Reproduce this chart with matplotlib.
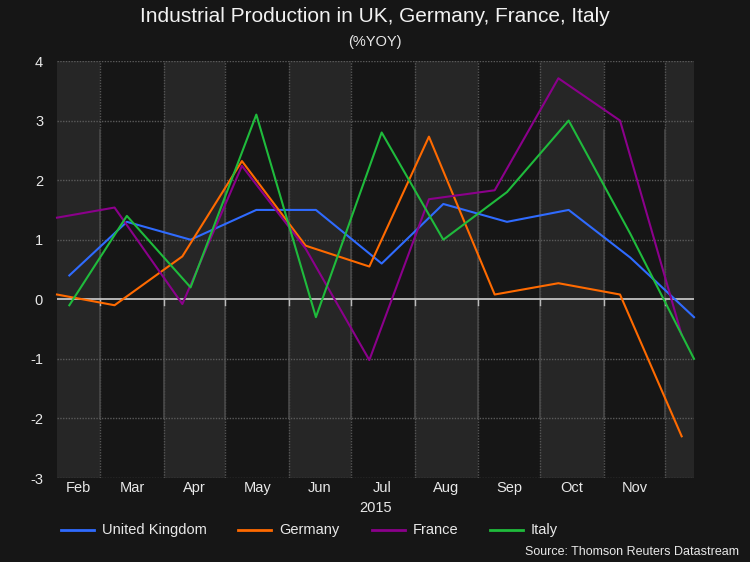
import datetime as dt
import matplotlib
matplotlib.use("Agg")
import matplotlib.pyplot as plt
import matplotlib.dates as mdates
from matplotlib import font_manager
from matplotlib.lines import Line2D

# ---------------- data ----------------
uk_dates = ["2015-02-14", "2015-03-14", "2015-04-14", "2015-05-16", "2015-06-14", "2015-07-16",
            "2015-08-15", "2015-09-15", "2015-10-15", "2015-11-14", "2015-12-15"]
uk_values = [0.4, 1.3, 1.0, 1.5, 1.5, 0.6, 1.6, 1.3, 1.5, 0.7, -0.3]

it_dates = uk_dates
it_values = [-0.1, 1.4, 0.2, 3.1, -0.3, 2.8, 1.0, 1.8, 3.0, 1.1, -1.0]

de_dates = ["2015-02-08", "2015-03-08", "2015-04-10", "2015-05-09", "2015-06-09", "2015-07-10",
            "2015-08-08", "2015-09-09", "2015-10-10", "2015-11-09", "2015-12-09"]
de_values = [0.08, -0.1, 0.72, 2.32, 0.9, 0.55, 2.73, 0.08, 0.27, 0.08, -2.3]

fr_dates = de_dates
fr_values = [1.37, 1.54, -0.08, 2.24, 0.85, -1.02, 1.68, 1.83, 3.71, 3.0, -0.6]

series_names = ["United Kingdom", "Germany", "France", "Italy"]
series_colors = ["#2f6bff", "#ff6a00", "#8b008b", "#1fbb3c"]

month_labels = ["Feb", "Mar", "Apr", "May", "Jun", "Jul", "Aug", "Sep", "Oct", "Nov"]
month_starts = ["2015-02-01", "2015-03-01", "2015-04-01", "2015-05-01", "2015-06-01", "2015-07-01",
                "2015-08-01", "2015-09-01", "2015-10-01", "2015-11-01", "2015-12-01", "2016-01-01"]
y_ticks = [-3, -2, -1, 0, 1, 2, 3, 4]
x_start = "2015-02-08"
x_end = "2015-12-15"
year_label = "2015"
title = "Industrial Production in UK, Germany, France, Italy"
subtitle = "(%YOY)"
source = "Source: Thomson Reuters Datastream"

# ---------------- fonts ----------------
available = {f.name for f in font_manager.fontManager.ttflist}
fams = [f for f in ["Liberation Sans Narrow", "Liberation Sans", "DejaVu Sans"] if f in available]
plt.rcParams["font.family"] = fams


def d(s):
    return mdates.date2num(dt.datetime.strptime(s, "%Y-%m-%d"))


BG = "#161616"
LIGHT = "#262626"
TXT = "#e8e8e8"

fig = plt.figure(figsize=(7.5, 5.62), dpi=100, facecolor=BG)
ax = fig.add_axes([57 / 750, 1 - 478 / 562, (694 - 57) / 750, (478 - 61) / 562])
ax.set_facecolor(BG)

xs, xe = d(x_start), d(x_end)
ms = [d(m) for m in month_starts]

# alternating month bands
for i in range(len(ms) - 1):
    if i % 2 == 0:
        ax.axvspan(max(ms[i], xs), min(ms[i + 1], xe), color=LIGHT, lw=0, zorder=0)

# vertical month lines
for m in ms[1:-1]:
    ax.axvline(m, color="#555555", lw=1, ls=(0, (1, 1)), zorder=1)
    ax.plot([m, m], [-2.0, 2.85], color="#484848", lw=1.2, zorder=1)
    ax.plot([m, m], [0, -0.1], color="#bbbbbb", lw=1, zorder=3)

# horizontal grid
for yv in y_ticks:
    if yv != 0:
        ax.axhline(yv, color="#5a5a5a", lw=1, ls=(0, (1, 1)), zorder=1)
ax.axhline(0, color="#d0d0d0", lw=1.2, zorder=2)

all_dates = [uk_dates, de_dates, fr_dates, it_dates]
all_vals = [uk_values, de_values, fr_values, it_values]
for dates, vals, c, n in zip(all_dates, all_vals, series_colors, series_names):
    ax.plot([d(s) for s in dates], vals, color=c, lw=1.5, zorder=4, label=n, clip_on=False)

ax.set_xlim(xs, xe)
ax.set_ylim(-3, 4)
ax.set_yticks(y_ticks)
ax.set_yticklabels([str(v) for v in y_ticks])
ax.tick_params(axis="y", length=0, pad=10, labelcolor=TXT, labelsize=10.5)
ax.set_xticks([])
for s in ax.spines.values():
    s.set_visible(False)

# month labels centred on visible part of each month
for i, lab in enumerate(month_labels):
    a, b = max(ms[i], xs), min(ms[i + 1], xe)
    ax.text((a + b) / 2, -3.17, lab, ha="center", va="center", color=TXT, fontsize=10.5)
ax.text((xs + xe) / 2, -3.5, year_label, ha="center", va="center", color=TXT, fontsize=10.5)

# titles
fig.text(0.5, 1 - 16 / 562, title, ha="center", va="center", color="#f2f2f2", fontsize=15)
fig.text(0.5, 1 - 42 / 562, subtitle, ha="center", va="center", color=TXT, fontsize=10.5)

# legend
leg_x = [61, 238, 372, 490]
ly = 1 - 530 / 562
for x0, c, n in zip(leg_x, series_colors, series_names):
    fig.add_artist(Line2D([x0 / 750, (x0 + 33) / 750], [ly, ly], color=c, lw=2))
    fig.text((x0 + 41) / 750, ly, n, ha="left", va="center", color=TXT, fontsize=10.5)

fig.text(739 / 750, 1 - 552 / 562, source, ha="right", va="center", color=TXT, fontsize=9)

fig.savefig("out.png", dpi=100, facecolor=BG)
